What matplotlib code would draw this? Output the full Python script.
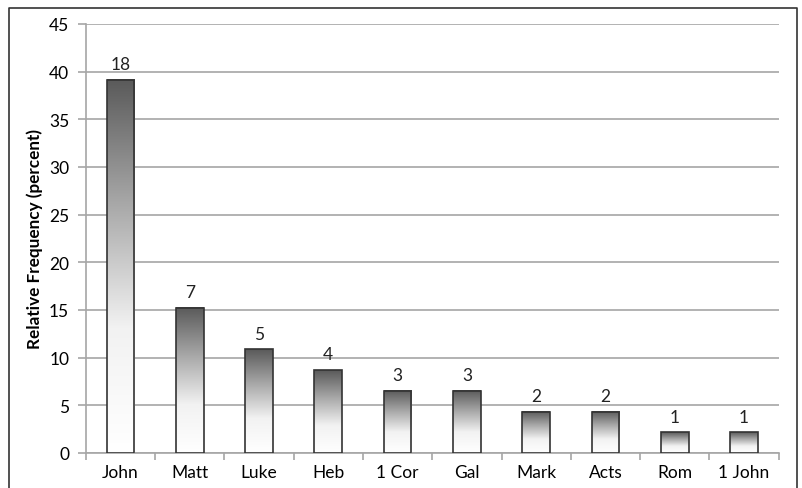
import matplotlib.pyplot as plt
import numpy as np
from matplotlib.lines import Line2D

books = ["John", "Matt", "Luke", "Heb", "1 Cor", "Gal", "Mark", "Acts", "Rom", "1 John"]
counts = [18, 7, 5, 4, 3, 3, 2, 2, 1, 1]
total = sum(counts)
freq = [c / total * 100 for c in counts]

plt.rcParams['font.family'] = ['Lato', 'DejaVu Sans']

fig = plt.figure(figsize=(8.02, 4.89), dpi=100)
ax = fig.add_axes([0.107, 0.0716, 0.864, 0.8774])

# vertical gradient: white at bottom, dark gray at top
grad = np.linspace(0, 1, 256).reshape(-1, 1)
cmap = plt.matplotlib.colors.LinearSegmentedColormap.from_list(
    "g", ["#ffffff", "#f2f2f2", "#a8a8a8", "#5a5a5a"])

w = 0.4
x = np.arange(len(books))
for xi, f, c in zip(x, freq, counts):
    ax.imshow(grad, extent=(xi - w / 2, xi + w / 2, 0, f), origin="lower",
              cmap=cmap, aspect="auto", zorder=3)
    ax.text(xi, f + 0.8, str(c), ha="center", va="bottom", fontsize=12.5, color="#222222")

ax.bar(x, freq, width=w, facecolor="none", edgecolor="#333333", linewidth=1.2, zorder=4)

ax.set_xlim(-0.5, len(books) - 0.5)
ax.set_ylim(0, 45)
ax.set_yticks(range(0, 46, 5))
ax.yaxis.grid(True, color="#a6a6a6", linewidth=1.2, zorder=0)
ax.set_axisbelow(True)

ax.set_xticks(x)
ax.set_xticklabels(books, fontsize=12.5)
ax.set_xticks(np.arange(-0.5, len(books), 1), minor=True)
ax.tick_params(axis="x", which="major", length=0, pad=8)
ax.tick_params(axis="x", which="minor", length=5, color="#a6a6a6", width=1.2)
ax.tick_params(axis="y", length=6, color="#a6a6a6", width=1.2, labelsize=12.5, pad=6)

for s in ["top", "right"]:
    ax.spines[s].set_visible(False)
ax.spines["left"].set_color("#a6a6a6")
ax.spines["bottom"].set_color("#a6a6a6")
ax.spines["left"].set_linewidth(1.2)
ax.spines["bottom"].set_linewidth(1.2)

ax.set_ylabel("Relative Frequency (percent)", fontsize=12.3, fontweight="bold", labelpad=4)

# outer frame (open at the bottom)
l, r, t = 9 / 802, 797 / 802, 1 - 9 / 489
fig.add_artist(Line2D([l, l, r, r], [0, t, t, 0], color="#333333", linewidth=1.2))

fig.savefig("out.png", dpi=100)
